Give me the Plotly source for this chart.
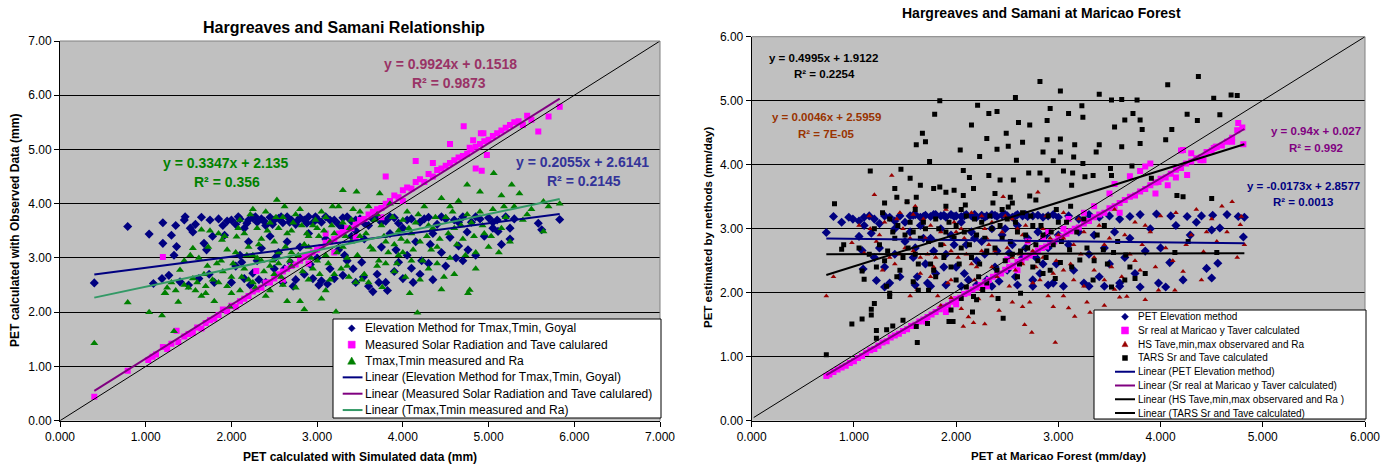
import plotly.graph_objects as go

W, H = 1390, 464
FONT = "Liberation Sans, Arial, sans-serif"

# ------------------------------------------------------------------
# LEFT CHART DATA  (x = PET simulated, y = PET observed)
# ------------------------------------------------------------------
elev_pts = [
    (0.40, 2.54), (0.79, 3.58), (1.04, 3.44), (1.20, 3.65), (1.30, 3.42), (1.20, 3.27), (1.36, 3.21), (1.46, 3.76),
    (1.52, 3.55), (1.65, 3.75), (1.71, 3.15), (1.09, 2.53), (1.19, 2.62), (1.40, 2.56), (1.27, 2.68), (1.33, 3.05),
    (1.55, 3.48), (1.58, 3.62), (1.62, 2.62), (1.50, 2.50), (1.75, 3.70), (1.78, 3.40), (1.68, 3.27), (1.74, 2.70),
    (1.80, 2.55), (1.45, 3.70), (1.35, 3.60), (1.85, 3.72), (1.90, 3.60), (1.92, 3.42),
    (2.00, 3.70), (2.05, 3.62), (2.10, 3.72), (2.15, 3.55), (2.20, 3.70), (2.25, 3.74), (2.30, 3.66), (2.35, 3.72),
    (2.40, 3.60), (2.45, 3.75), (2.50, 3.70), (2.55, 3.73), (2.60, 3.65), (2.65, 3.76), (2.70, 3.70), (2.75, 3.62),
    (2.80, 3.74), (2.85, 3.70), (2.90, 3.76), (2.95, 3.65), (3.00, 3.72), (3.10, 3.76), (3.20, 3.70), (3.30, 3.74),
    (3.40, 3.68), (2.00, 2.55), (2.05, 2.85), (2.10, 3.05), (2.15, 2.62), (2.20, 3.30), (2.25, 2.72), (2.30, 2.95),
    (2.35, 3.18), (2.40, 2.55), (2.45, 3.40), (2.50, 2.80), (2.55, 3.10), (2.60, 2.55), (2.65, 3.30), (2.70, 2.90),
    (2.75, 2.60), (2.80, 3.20), (2.85, 2.70), (2.90, 3.45), (2.95, 2.62), (3.00, 3.00), (3.05, 2.58), (3.10, 3.35),
    (3.15, 2.80), (3.20, 2.62), (3.25, 3.15), (3.30, 2.68), (3.35, 2.95), (3.40, 3.40), (3.45, 2.55),
    (3.54, 2.65), (3.60, 2.48), (3.70, 2.70), (3.80, 2.55), (3.90, 2.75), (4.00, 2.62), (4.10, 2.81), (4.20, 2.70),
    (4.30, 2.90), (3.65, 2.38), (3.95, 2.92), (4.05, 3.05),
    (3.50, 3.72), (3.60, 3.60), (3.70, 3.75), (3.80, 3.68), (3.90, 3.74), (4.00, 3.55), (4.10, 3.72), (4.20, 3.66),
    (4.30, 3.75), (4.40, 3.62), (4.50, 3.72), (4.60, 3.70), (4.70, 3.76), (4.80, 3.66), (4.90, 3.72), (5.00, 3.74),
    (5.10, 3.70), (5.20, 3.76), (5.30, 3.72), (3.55, 3.35), (3.75, 3.20), (3.85, 3.45), (4.15, 3.30), (4.35, 3.45),
    (4.45, 3.10), (4.55, 3.38), (4.65, 3.22), (4.75, 3.48), (4.85, 3.05), (4.95, 3.40), (5.05, 3.55), (5.15, 3.25),
    (5.25, 3.35), (5.58, 3.64), (5.83, 3.71), (5.62, 3.52), (4.35, 2.60), (4.50, 2.85), (4.70, 2.95), (3.30, 3.55),
    (3.45, 3.50), (4.76, 3.15), (5.11, 3.49), (5.25, 3.55),
    (1.95, 3.68), (2.08, 3.76), (2.18, 3.64), (2.28, 3.76), (2.38, 3.68), (2.48, 3.62), (2.58, 3.76), (2.68, 3.66),
    (2.78, 3.70), (2.88, 3.64), (2.98, 3.76), (3.05, 3.66), (3.15, 3.70), (3.25, 3.62), (3.35, 3.76), (3.45, 3.70),
    (3.55, 3.64), (3.65, 3.72), (3.75, 3.66), (3.85, 3.76), (3.95, 3.64), (4.05, 3.70), (4.25, 3.72), (4.45, 3.76),
    (4.65, 3.66), (4.85, 3.76), (5.05, 3.66), (2.12, 2.92), (2.32, 2.60), (2.52, 3.02), (2.72, 2.48), (2.92, 2.88),
    (3.12, 2.52), (3.32, 3.05), (3.52, 2.92), (3.72, 2.55), (3.92, 3.15), (4.12, 2.55), (4.32, 3.25), (2.22, 2.50),
    (2.62, 2.80), (3.02, 2.50), (3.42, 2.80), (3.82, 2.40), (4.22, 2.95), (4.62, 3.00),
]

meas_pts = [
    (0.40, 0.44), (0.79, 0.92), (1.03, 1.12), (1.08, 1.18), (1.12, 1.22), (1.20, 1.36), (1.25, 1.32), (1.30, 1.42),
    (1.36, 1.66), (1.38, 1.45), (1.45, 1.55), (1.50, 1.60), (1.55, 1.62), (1.60, 1.72), (1.65, 1.70), (1.70, 1.80),
    (1.75, 1.85), (1.80, 1.88), (1.85, 1.95), (1.90, 2.05), (1.95, 2.02), (2.00, 2.12), (2.05, 2.10), (2.10, 2.20),
    (2.15, 2.25), (2.20, 2.30), (2.25, 2.38), (2.29, 2.76), (2.30, 2.42), (2.35, 2.45), (2.40, 2.55), (2.45, 2.55),
    (2.50, 2.62), (2.55, 2.70), (2.60, 2.75), (2.65, 2.80), (2.70, 2.85), (2.75, 2.88), (2.80, 2.95), (2.85, 3.02),
    (2.90, 3.05), (2.95, 3.10), (3.00, 3.15), (3.05, 3.20), (3.10, 3.28), (3.15, 3.30), (3.20, 3.35), (3.25, 3.45),
    (3.30, 3.48), (3.35, 3.55), (3.40, 3.55), (3.45, 3.62), (3.50, 3.70), (3.55, 3.72), (3.60, 3.80), (3.65, 3.85),
    (3.70, 3.90), (3.75, 3.92), (3.80, 4.50), (3.80, 4.00), (3.85, 4.05), (3.90, 4.15), (3.95, 4.12), (4.00, 4.25),
    (4.05, 4.30), (4.10, 4.28), (4.15, 4.79), (4.15, 4.40), (4.20, 4.45), (4.25, 4.40), (4.30, 4.55), (4.35, 4.50),
    (4.40, 4.62), (4.45, 4.65), (4.50, 4.70), (4.55, 4.75), (4.60, 4.80), (4.65, 4.85), (4.71, 5.43), (4.70, 4.88),
    (4.75, 4.92), (4.80, 5.00), (4.85, 5.05), (4.90, 5.10), (4.92, 4.61), (4.95, 5.15), (5.00, 5.18), (5.05, 5.25),
    (5.10, 5.30), (5.15, 5.35), (5.20, 5.40), (5.25, 5.45), (5.30, 5.50), (5.35, 5.52), (5.40, 5.45), (5.58, 5.33),
    (5.70, 5.61), (5.83, 5.79), (1.20, 3.02), (3.20, 3.10), (3.45, 3.38), (2.60, 2.60), (3.75, 3.75), (4.35, 4.75),
    (4.55, 5.10), (4.00, 4.05), (3.10, 3.45), (2.90, 2.90), (4.85, 4.65), (4.91, 5.30), (4.98, 4.90), (4.78, 5.03),
    (4.82, 5.17), (4.94, 5.30), (5.45, 5.62), (5.50, 5.55),
]

tmax_pts = [
    (0.40, 1.43), (0.79, 2.18), (1.04, 2.00), (1.19, 1.94), (1.22, 2.35), (1.25, 2.45), (1.30, 2.55), (1.33, 1.65),
    (1.35, 2.40), (1.40, 2.78), (1.45, 2.50), (1.50, 2.45), (1.52, 3.05), (1.55, 2.62), (1.60, 2.55), (1.62, 3.00),
    (1.65, 2.30), (1.68, 2.70), (1.70, 2.48), (1.72, 2.85), (1.75, 3.50), (1.78, 2.60), (1.80, 2.20), (1.85, 2.55),
    (1.88, 2.95), (1.90, 2.75), (1.92, 3.40), (1.95, 2.48), (1.98, 2.10), (2.00, 2.65), (1.38, 2.19), (1.23, 2.35),
    (1.65, 3.52), (1.55, 3.18), (2.06, 3.39), (1.89, 3.33),
    (2.05, 3.10), (2.10, 2.40), (2.15, 2.80), (2.20, 3.20), (2.25, 2.55), (2.30, 3.55), (2.35, 2.95), (2.40, 2.30),
    (2.45, 3.65), (2.50, 2.70), (2.53, 4.07), (2.55, 3.10), (2.60, 2.50), (2.65, 3.45), (2.70, 2.85), (2.75, 3.80),
    (2.80, 2.20), (2.85, 3.25), (2.90, 2.60), (2.95, 3.60), (3.00, 2.95), (3.05, 3.85), (3.10, 2.40), (3.15, 3.30),
    (3.20, 2.70), (3.25, 3.95), (3.30, 4.25), (3.35, 3.00), (3.40, 3.70), (3.45, 2.55), (3.50, 3.40),
    (2.10, 3.70), (2.20, 2.60), (2.30, 3.00), (2.40, 3.85), (2.50, 3.30), (2.60, 3.75), (2.70, 3.50), (2.80, 3.90),
    (2.90, 3.20), (3.00, 3.55), (3.10, 3.75), (3.20, 3.45), (3.30, 3.65), (3.40, 3.30), (3.50, 3.85), (2.15, 3.45),
    (2.35, 3.35), (2.55, 2.90), (2.75, 2.45), (2.95, 2.80), (3.15, 2.60), (3.35, 2.85), (2.65, 2.20), (2.85, 2.05),
    (3.05, 2.25), (3.22, 2.01), (2.25, 3.90), (2.45, 2.40), (2.62, 3.95), (2.82, 3.60), (3.02, 3.40), (3.18, 3.95),
    (3.38, 3.55), (2.25, 3.05), (2.45, 2.85), (2.70, 3.10), (2.90, 3.40), (3.10, 3.05), (3.30, 3.20), (2.55, 3.55),
    (3.55, 2.70), (3.60, 3.95), (3.65, 3.15), (3.70, 2.85), (3.75, 3.60), (3.76, 2.46), (3.80, 3.30), (3.85, 4.00),
    (3.90, 2.75), (3.95, 3.50), (4.00, 3.10), (4.05, 3.85), (4.08, 2.35), (4.10, 2.95), (4.15, 3.65), (4.17, 1.99),
    (4.20, 3.30), (4.25, 3.95), (4.30, 2.80), (4.35, 3.55), (4.40, 3.20), (4.45, 2.42), (4.50, 3.75), (4.55, 3.00),
    (4.60, 3.55), (4.65, 4.05), (4.70, 3.35), (4.76, 2.35), (4.78, 2.41), (4.80, 3.65), (4.85, 3.10), (4.90, 3.85),
    (4.95, 3.45), (5.00, 3.20), (5.05, 3.90), (5.12, 3.10), (5.15, 3.55), (5.20, 3.75), (5.30, 3.95), (5.40, 3.70),
    (5.50, 3.90), (5.64, 3.49), (5.70, 3.95), (5.83, 4.00), (3.60, 2.55), (3.90, 3.25), (4.10, 3.45), (4.40, 2.90),
    (4.60, 2.70), (3.70, 3.80), (4.00, 3.70), (4.30, 3.60), (4.75, 3.80), (5.25, 3.30), (4.85, 2.80), (4.55, 3.95),
    (5.06, 4.56), (5.27, 4.35), (5.36, 4.19), (3.46, 4.22), (3.73, 4.19), (4.75, 4.35), (4.90, 4.22), (5.64, 4.04),
    (4.45, 4.10), (5.15, 4.15), (3.95, 3.05), (4.20, 2.60), (3.80, 2.90), (4.05, 3.30),
    (2.02, 2.90), (2.08, 3.55), (2.12, 2.65), (2.18, 3.05), (2.22, 3.80), (2.28, 2.45), (2.32, 3.25), (2.38, 2.75),
    (2.42, 3.50), (2.48, 2.95), (2.52, 3.75), (2.58, 2.65), (2.63, 3.20), (2.68, 2.95), (2.72, 3.65), (2.78, 3.05),
    (2.83, 2.75), (2.88, 3.45), (2.93, 3.00), (2.98, 3.70), (3.03, 2.70), (3.08, 3.50), (3.13, 2.90), (3.17, 3.60),
    (3.23, 3.10), (3.28, 2.80), (3.33, 3.40), (3.37, 2.65), (3.42, 3.90), (3.47, 3.05), (3.52, 2.60), (3.57, 3.45),
    (3.62, 3.20), (3.67, 3.70), (3.72, 2.95), (3.78, 3.40), (3.83, 3.10), (3.88, 3.75), (3.93, 2.90), (3.98, 3.35),
    (4.03, 2.65), (4.07, 3.55), (4.12, 3.15), (4.18, 3.80), (4.23, 2.95), (4.28, 3.40), (4.33, 3.15), (4.38, 3.75),
    (4.43, 3.35), (4.48, 2.65), (4.53, 3.45), (4.58, 3.85), (4.63, 3.25), (4.68, 3.60), (4.73, 3.05), (4.83, 3.40),
    (4.93, 3.60), (5.03, 3.40), (5.18, 3.95), (5.45, 3.80), (1.45, 2.95), (1.58, 2.40), (1.73, 3.20), (1.83, 2.90),
    (1.95, 3.15), (1.70, 2.35), (1.85, 3.45), (2.00, 2.35),
]

left_trend_names = ["Linear (Elevation Method for Tmax,Tmin, Goyal)",
                    "Linear (Measured Solar Radiation and Tave calulared)",
                    "Linear (Tmax,Tmin measured and Ra)"]
left_slopes = [0.2055, 0.9924, 0.3347]
left_inters = [2.6141, 0.1518, 2.135]
left_trend_x = [0.40, 5.83]
left_diag = [0.0, 7.0]

# ------------------------------------------------------------------
# RIGHT CHART DATA  (x = PET at Maricao Forest, y = PET by methods)
# ------------------------------------------------------------------
pet_elev_pts = [
    (0.73, 2.94), (0.80, 3.19), (0.88, 3.10), (0.99, 3.15), (1.05, 3.12), (1.10, 3.05), (1.15, 3.20), (1.20, 3.15),
    (1.25, 3.08), (1.30, 3.20), (1.35, 3.18), (1.40, 3.00), (1.45, 3.20), (1.05, 2.88), (1.08, 2.66), (1.20, 2.55),
    (1.25, 2.70), (1.09, 2.37), (1.17, 2.93), (1.22, 2.19), (1.30, 2.09), (1.30, 2.40), (1.35, 2.15), (1.40, 2.60),
    (1.45, 2.25), (1.50, 2.80),
    (1.55, 3.20), (1.60, 3.22), (1.65, 3.18), (1.70, 3.21), (1.75, 3.19), (1.80, 3.22), (1.85, 3.20), (1.90, 3.18),
    (1.95, 3.22), (2.00, 3.20), (2.05, 3.19), (2.10, 3.22), (2.15, 3.20), (2.20, 3.18), (2.25, 3.21), (2.30, 3.20),
    (2.35, 3.22), (2.40, 3.19), (2.45, 3.21), (2.50, 3.20), (2.55, 3.18), (2.60, 3.22), (2.65, 3.20), (2.70, 3.19),
    (2.80, 3.21), (2.90, 3.20), (3.00, 3.18),
    (1.55, 2.95), (1.60, 2.70), (1.65, 3.05), (1.70, 2.45), (1.75, 2.85), (1.80, 2.30), (1.85, 3.00), (1.90, 2.60),
    (1.95, 2.90), (2.00, 2.40), (2.05, 3.10), (2.10, 2.75), (2.15, 2.95), (2.20, 2.50), (2.25, 2.80), (2.30, 2.20),
    (2.35, 3.00), (2.40, 2.65), (2.45, 2.90), (2.50, 2.35), (2.55, 2.75), (2.60, 3.05), (2.65, 2.55), (2.70, 2.85),
    (2.75, 2.20), (2.80, 2.95), (2.85, 2.45), (2.90, 2.70), (2.95, 2.15), (3.00, 2.90),
    (1.60, 2.12), (1.75, 2.10), (1.90, 2.12), (2.05, 2.10), (2.20, 2.12), (2.35, 2.10), (2.60, 2.12), (2.75, 2.10),
    (2.90, 2.12), (3.05, 2.10),
    (3.10, 3.20), (3.20, 3.15), (3.30, 3.22), (3.40, 3.18), (3.50, 3.20), (3.60, 3.15), (3.70, 3.19), (3.80, 3.22),
    (3.96, 3.23), (4.10, 3.20), (4.26, 3.19), (4.40, 3.20), (4.51, 3.21), (4.65, 3.22), (4.76, 3.19), (4.81, 2.87),
    (4.58, 3.01), (4.29, 2.90), (4.09, 2.47), (4.45, 2.38), (4.56, 2.46), (4.50, 2.23), (4.22, 2.20), (3.98, 2.15),
    (4.05, 2.09), (3.80, 2.09), (3.10, 2.75), (3.15, 2.35), (3.20, 2.95), (3.25, 2.15), (3.30, 2.60), (3.35, 2.90),
    (3.40, 2.25), (3.45, 2.70), (3.50, 2.45), (3.55, 2.95), (3.60, 2.15), (3.65, 2.55), (3.70, 2.85), (3.75, 2.30),
    (3.85, 2.65), (3.90, 3.00), (4.00, 2.70), (4.15, 3.05), (4.35, 3.10), (4.50, 2.98), (4.82, 3.18), (3.45, 2.10),
    (3.60, 2.10), (3.30, 2.10),
    (1.58, 3.21), (1.68, 3.19), (1.78, 3.22), (1.88, 3.21), (1.98, 3.19), (2.08, 3.20), (2.18, 3.22), (2.28, 3.18),
    (2.38, 3.21), (2.48, 3.22), (2.58, 3.20), (2.68, 3.22), (2.75, 3.20), (2.85, 3.18), (2.95, 3.22), (1.58, 2.55),
    (1.68, 2.85), (1.78, 2.65), (1.88, 2.40), (1.98, 2.75), (2.08, 2.30), (2.18, 2.85), (2.28, 2.60), (2.38, 2.40),
    (2.48, 3.00), (2.58, 2.25), (2.68, 2.70), (2.78, 2.55), (2.88, 2.90), (2.98, 2.45), (1.50, 3.10), (1.62, 2.25),
    (1.72, 2.15), (2.12, 2.20), (2.42, 2.18), (2.52, 2.62), (2.82, 2.30), (1.40, 3.12), (1.10, 3.18), (0.95, 3.18),
]

sr_pts = [
    (0.73, 0.70), (0.76, 0.72), (0.80, 0.76), (0.84, 0.80), (0.88, 0.83), (0.92, 0.86), (0.96, 0.90), (1.00, 0.93),
    (1.04, 0.98), (1.08, 1.01), (1.12, 1.06), (1.16, 1.10), (1.20, 1.12), (1.24, 1.17), (1.28, 1.22), (1.32, 1.24),
    (1.36, 1.30), (1.40, 1.33), (1.44, 1.36), (1.48, 1.40), (1.52, 1.43), (1.56, 1.48), (1.60, 1.50), (1.64, 1.55),
    (1.68, 1.58), (1.72, 1.62), (1.76, 1.66), (1.80, 1.70), (1.84, 1.74), (1.88, 1.78), (1.92, 1.80), (1.96, 1.86),
    (2.00, 1.90), (2.04, 1.92), (2.08, 1.98), (2.12, 2.00), (2.16, 2.05), (2.20, 2.08), (2.24, 2.12), (2.28, 2.16),
    (2.32, 2.20), (2.36, 2.25), (2.40, 2.28), (2.44, 2.30), (2.48, 2.36), (2.52, 2.40), (2.56, 2.42), (2.60, 2.48),
    (2.64, 2.50), (2.68, 2.55), (2.72, 2.58), (2.76, 2.62), (2.80, 2.66), (2.84, 2.70), (2.88, 2.72), (2.92, 2.78),
    (2.96, 2.80), (3.00, 2.85), (3.04, 2.88), (3.08, 2.92), (3.12, 2.96), (3.16, 3.00), (3.20, 3.02), (3.25, 3.08),
    (3.30, 3.12), (3.35, 3.18), (3.40, 3.22), (3.45, 3.25), (3.50, 3.32), (3.55, 3.35), (3.60, 3.40), (3.65, 3.45),
    (3.70, 3.50), (3.75, 3.52), (3.80, 3.58), (3.85, 3.62), (3.90, 3.68), (3.95, 3.72), (4.00, 3.78), (4.05, 3.80),
    (4.10, 3.86), (4.15, 3.92), (4.20, 3.95), (4.25, 4.02), (4.30, 4.05), (4.35, 4.10), (4.40, 4.12), (4.45, 4.20),
    (4.50, 4.22), (4.55, 4.28), (4.60, 4.30), (4.65, 4.36), (4.70, 4.42), (4.75, 4.54), (4.76, 4.65), (4.81, 4.32),
    (4.80, 4.58), (3.90, 4.02), (4.07, 3.68), (4.42, 4.07), (4.54, 4.28), (3.35, 3.35), (3.50, 3.55), (3.70, 3.82),
    (2.90, 2.95), (3.10, 3.15), (2.50, 2.52), (2.70, 2.80), (3.55, 3.70), (3.80, 3.90), (4.20, 4.22), (4.30, 4.18),
    (3.60, 3.25), (2.30, 2.10), (2.60, 2.35), (1.90, 1.70), (2.00, 1.82), (1.70, 1.55), (3.95, 3.55), (4.15, 3.80),
    (3.25, 3.25), (3.05, 3.00), (2.85, 2.85), (3.85, 3.97), (4.22, 4.23), (4.39, 4.07), (4.52, 4.26), (4.26, 3.84),
    (3.98, 3.73), (4.70, 4.36),
]

hs_pts = [
    (0.73, 1.95), (0.80, 2.25), (0.98, 2.78), (1.05, 3.05), (1.10, 2.62), (1.15, 3.20), (1.20, 3.53), (1.25, 2.90),
    (1.30, 3.10), (1.37, 3.83), (1.40, 2.45), (1.45, 3.25), (1.50, 2.70), (1.55, 1.95), (1.60, 3.35), (1.65, 2.30),
    (1.70, 2.85), (1.75, 3.05), (1.80, 2.55), (1.85, 1.80), (1.90, 3.30), (1.95, 2.20), (2.00, 2.95), (2.05, 1.75),
    (2.07, 1.47), (2.10, 2.60), (2.15, 3.25), (2.17, 1.53), (2.20, 2.40), (2.25, 2.05), (2.28, 1.51), (2.30, 2.85),
    (2.35, 3.10), (2.40, 2.25), (2.46, 3.50), (2.50, 2.70), (2.55, 1.85), (2.60, 3.00), (2.65, 2.45), (2.67, 1.50),
    (2.70, 2.80), (2.74, 1.38), (2.75, 2.15), (2.80, 3.57), (2.85, 2.55), (2.90, 1.95), (2.95, 1.78), (2.97, 1.22),
    (3.00, 2.90), (3.05, 2.35), (3.10, 1.76), (3.15, 2.75), (3.16, 1.63), (3.20, 3.15), (3.25, 2.10), (3.31, 1.69),
    (3.35, 2.55), (3.40, 3.05), (3.45, 2.20), (3.50, 2.85), (3.55, 3.30), (3.60, 1.93), (3.67, 1.94), (3.70, 2.60),
    (3.75, 3.10), (3.80, 2.35), (3.85, 1.89), (3.90, 2.95), (3.98, 2.04), (4.00, 3.20), (4.05, 2.70), (4.14, 2.04),
    (4.15, 3.25), (4.22, 2.33), (4.30, 2.90), (4.35, 3.30), (4.42, 2.64), (4.50, 3.15), (4.55, 2.80), (4.60, 3.35),
    (4.70, 3.42), (4.75, 2.55), (4.78, 3.06), (4.79, 3.19), (4.82, 2.75),
    (1.22, 2.80), (1.35, 2.55), (1.48, 3.00), (1.58, 2.65), (1.68, 3.15), (1.78, 2.40), (1.88, 2.75), (1.98, 3.10),
    (2.08, 2.85), (2.18, 2.20), (2.28, 3.00), (2.38, 2.65), (2.48, 3.20), (2.58, 2.35), (2.68, 3.05), (2.78, 2.40),
    (2.88, 3.20), (2.98, 2.50), (1.62, 2.05), (1.92, 2.15), (2.22, 1.90), (2.52, 2.10), (2.82, 2.20), (3.12, 2.45),
    (1.42, 3.15), (1.72, 2.60), (2.02, 2.55), (2.32, 2.75), (2.62, 2.60), (2.92, 2.85), (3.22, 2.60), (3.52, 2.40),
    (3.82, 2.75), (4.12, 2.50), (4.45, 2.95), (3.62, 2.25), (2.12, 1.62), (2.42, 1.72), (1.82, 1.95), (2.72, 1.85),
    (3.28, 1.85), (1.52, 3.42), (1.16, 3.00), (1.58, 3.22), (2.25, 3.20), (2.55, 3.15), (3.05, 3.25),
    (1.28, 2.35), (1.45, 2.60), (1.55, 2.85), (1.65, 2.55), (1.75, 2.25), (1.85, 2.95), (1.95, 2.65), (2.05, 3.00),
    (2.15, 2.45), (2.25, 2.65), (2.35, 2.40), (2.45, 2.95), (2.55, 2.55), (2.65, 2.90), (2.75, 2.65), (2.85, 3.00),
    (2.95, 2.30), (3.05, 2.85), (3.15, 2.20), (3.25, 2.95), (3.35, 2.35), (3.45, 2.75), (3.55, 2.05), (3.65, 2.90),
    (3.75, 2.50), (3.85, 3.05), (3.95, 2.40), (4.25, 2.75), (4.40, 2.20), (4.65, 2.95), (1.95, 1.92), (2.35, 1.95),
    (2.65, 1.78), (3.05, 1.95), (3.45, 1.80),
]

tars_pts = [
    (0.73, 1.03), (1.62, 1.22), (1.16, 3.90), (0.81, 3.39), (0.88, 2.68), (0.98, 1.51), (1.08, 1.59), (1.17, 1.65),
    (1.22, 1.41), (1.22, 1.29), (1.32, 1.42), (1.38, 1.48), (1.48, 1.57), (1.61, 1.47), (1.72, 1.52), (1.93, 1.55),
    (1.97, 1.55), (2.16, 1.70), (2.20, 1.89), (2.26, 2.05), (2.46, 1.60), (2.41, 1.91), (2.63, 1.99),
    (1.84, 5.00), (1.79, 4.79), (1.67, 4.49), (1.61, 4.31), (1.70, 4.36), (1.74, 4.05), (2.21, 4.93), (2.15, 4.62),
    (2.32, 4.80), (2.40, 4.83), (2.58, 5.05), (2.82, 5.30), (2.61, 4.66), (2.49, 4.49), (2.30, 4.41), (2.04, 4.23),
    (2.40, 4.24), (2.51, 4.29), (2.65, 4.35), (2.72, 4.62), (2.89, 4.39), (2.85, 4.20), (2.23, 4.13), (2.59, 4.07),
    (1.46, 3.93), (1.55, 3.79), (1.65, 3.68), (2.07, 3.91), (2.13, 3.80), (2.32, 3.83), (2.43, 3.76), (2.56, 3.76),
    (2.71, 3.87), (2.82, 3.87), (1.30, 3.40), (1.40, 3.63), (1.42, 3.49), (1.52, 3.42), (1.61, 3.49), (1.78, 3.63),
    (1.84, 3.65), (1.90, 3.57), (2.07, 3.52), (2.09, 3.37), (2.17, 3.63), (2.36, 3.40), (2.53, 3.49), (2.51, 3.34),
    (2.72, 3.51),
    (1.10, 2.21), (1.08, 2.34), (1.20, 1.83), (1.17, 1.74), (1.35, 1.99), (1.35, 1.94), (1.32, 2.10), (1.42, 2.25),
    (1.58, 2.17), (1.63, 2.04), (1.73, 2.04), (1.95, 1.73), (2.10, 2.09), (2.05, 1.91), (2.17, 1.94),
    (3.02, 5.15), (3.40, 5.10), (3.52, 5.01), (3.62, 5.02), (3.77, 5.01), (4.07, 5.25), (4.37, 5.38), (4.52, 5.04),
    (4.69, 5.09), (4.75, 5.08), (3.23, 4.92), (2.92, 4.88), (2.89, 4.69), (3.10, 4.80), (3.24, 4.74), (3.73, 4.80),
    (3.80, 4.70), (3.55, 4.59), (3.65, 4.70), (3.82, 4.55), (4.05, 4.39), (4.11, 4.55), (4.26, 4.79), (4.36, 4.69),
    (4.58, 4.78), (3.02, 4.40), (3.16, 4.31), (3.37, 4.20), (3.40, 4.31), (3.62, 4.28), (3.80, 4.33), (3.24, 4.02),
    (3.51, 3.94), (3.72, 3.98), (3.91, 3.79), (4.22, 3.50), (4.16, 3.52), (4.50, 3.47), (3.02, 4.20), (2.89, 3.76),
    (2.95, 4.06), (3.05, 3.90), (3.14, 3.87), (3.13, 3.68), (3.26, 3.81), (3.34, 3.83), (3.52, 3.83), (3.15, 4.12),
    (3.11, 2.67), (3.21, 2.51), (3.35, 2.50), (3.44, 2.67), (3.54, 2.63), (3.66, 2.59), (3.52, 2.09), (3.34, 2.20),
    (3.02, 2.47), (2.97, 2.22), (3.65, 2.20), (3.75, 2.22), (4.14, 2.63), (4.55, 2.63), (4.27, 2.80), (3.42, 1.31),
    (1.50, 2.90), (1.55, 3.10), (1.60, 2.60), (1.65, 2.85), (1.70, 3.00), (1.75, 2.45), (1.80, 3.15), (1.85, 2.75),
    (1.90, 2.95), (1.95, 2.40), (2.00, 3.05), (2.05, 2.70), (2.10, 3.20), (2.15, 2.55), (2.20, 2.90), (2.25, 3.10),
    (2.30, 2.65), (2.35, 3.00), (2.40, 2.35), (2.45, 2.85), (2.50, 3.15), (2.55, 2.60), (2.60, 2.95), (2.65, 3.25),
    (2.70, 2.70), (2.75, 3.05), (2.80, 2.50), (2.85, 2.90), (2.90, 3.20), (2.95, 2.75), (3.00, 3.10), (1.25, 2.75),
    (1.30, 2.50), (1.35, 3.15), (1.40, 2.85), (1.45, 2.35), (1.20, 3.00), (1.15, 2.60), (1.05, 2.70), (0.90, 2.75),
    (1.60, 3.30), (2.00, 2.20), (2.30, 2.15), (2.60, 2.25), (2.85, 2.30), (1.80, 2.25), (2.75, 2.40), (2.05, 3.30),
    (2.45, 3.30), (2.55, 3.40), (1.90, 3.35),
    (1.22, 2.40), (1.28, 3.25), (1.33, 2.65), (1.38, 2.95), (1.43, 3.05), (1.48, 2.55), (1.53, 2.70), (1.58, 2.95),
    (1.63, 2.45), (1.68, 3.10), (1.73, 2.80), (1.78, 2.35), (1.83, 3.00), (1.88, 2.55), (1.93, 3.10), (1.98, 2.85),
    (2.03, 2.45), (2.08, 2.95), (2.13, 2.75), (2.18, 3.15), (2.23, 2.45), (2.28, 2.85), (2.33, 3.20), (2.38, 2.70),
    (2.43, 3.05), (2.48, 2.50), (2.53, 2.80), (2.58, 3.10), (2.63, 2.65), (2.68, 2.90), (2.73, 3.20), (2.78, 2.75),
    (2.83, 3.05), (2.88, 2.55), (2.93, 2.95), (2.98, 3.30), (3.03, 2.80), (3.08, 3.10), (3.13, 2.40), (3.18, 2.95),
    (3.28, 2.70), (3.38, 2.90), (3.48, 2.45), (3.58, 2.80), (3.70, 2.40), (3.85, 2.30), (2.62, 2.45), (2.92, 2.35),
    (2.22, 2.25), (3.25, 3.15), (3.45, 3.05), (3.12, 3.35), (2.78, 3.45), (2.38, 3.55), (1.98, 3.60),
]

right_trend_names = ["Linear (PET Elevation method)",
                     "Linear (Sr real at Maricao y Taver calculated)",
                     "Linear (HS Tave,min,max observared and Ra )",
                     "Linear (TARS Sr and Tave calculated)"]
right_slopes = [-0.0173, 0.94, 0.0046, 0.4995]
right_inters = [2.8577, 0.027, 2.5959, 1.9122]
right_trend_x = [0.73, 4.82]
right_diag_x = [0.02, 6.0]
right_diag_y = [0.05, 6.0]

# ------------------------------------------------------------------
fig = go.Figure()


def xs(pts):
    return [p[0] for p in pts]


def ys(pts):
    return [p[1] for p in pts]


# left markers
fig.add_trace(go.Scatter(x=xs(elev_pts), y=ys(elev_pts), mode="markers", xaxis="x", yaxis="y",
                         marker=dict(symbol="diamond", size=7, color="#000080"), showlegend=False,
                         name="Elevation Method for Tmax,Tmin, Goyal"))
fig.add_trace(go.Scatter(x=xs(meas_pts), y=ys(meas_pts), mode="markers", xaxis="x", yaxis="y",
                         marker=dict(symbol="square", size=6, color="#FF00FF"), showlegend=False,
                         name="Measured Solar Radiation and Tave calulared"))
fig.add_trace(go.Scatter(x=xs(tmax_pts), y=ys(tmax_pts), mode="markers", xaxis="x", yaxis="y",
                         marker=dict(symbol="triangle-up", size=7, color="#008000"), showlegend=False,
                         name="Tmax,Tmin measured and Ra"))
fig.add_trace(go.Scatter(x=left_diag, y=left_diag, mode="lines", xaxis="x", yaxis="y",
                         line=dict(color="black", width=1), showlegend=False, hoverinfo="skip"))
left_trend_colors = ["#000080", "#800080", "#339966"]
for n, m, b, c in zip(left_trend_names, left_slopes, left_inters, left_trend_colors):
    fig.add_trace(go.Scatter(x=left_trend_x, y=[m * v + b for v in left_trend_x], mode="lines",
                             xaxis="x", yaxis="y", line=dict(color=c, width=2), name=n, showlegend=False))

# right markers
fig.add_trace(go.Scatter(x=xs(pet_elev_pts), y=ys(pet_elev_pts), mode="markers", xaxis="x2", yaxis="y2",
                         marker=dict(symbol="diamond", size=7, color="#000080"), showlegend=False,
                         name="PET Elevation method"))
fig.add_trace(go.Scatter(x=xs(sr_pts), y=ys(sr_pts), mode="markers", xaxis="x2", yaxis="y2",
                         marker=dict(symbol="square", size=6, color="#FF00FF"), showlegend=False,
                         name="Sr real at Maricao y Taver calculated"))
fig.add_trace(go.Scatter(x=xs(hs_pts), y=ys(hs_pts), mode="markers", xaxis="x2", yaxis="y2",
                         marker=dict(symbol="triangle-up", size=5, color="#990000"), showlegend=False,
                         name="HS Tave,min,max observared and Ra"))
fig.add_trace(go.Scatter(x=xs(tars_pts), y=ys(tars_pts), mode="markers", xaxis="x2", yaxis="y2",
                         marker=dict(symbol="square", size=5, color="#000000"), showlegend=False,
                         name="TARS Sr and Tave calculated"))
fig.add_trace(go.Scatter(x=right_diag_x, y=right_diag_y, mode="lines", xaxis="x2", yaxis="y2",
                         line=dict(color="black", width=1), showlegend=False, hoverinfo="skip"))
right_trend_colors = ["#000080", "#800080", "#000000", "#000000"]
for n, m, b, c in zip(right_trend_names, right_slopes, right_inters, right_trend_colors):
    fig.add_trace(go.Scatter(x=right_trend_x, y=[m * v + b for v in right_trend_x], mode="lines",
                             xaxis="x2", yaxis="y2", line=dict(color=c, width=2), name=n, showlegend=False))


def PX(x):
    return x / W


def PY(y):
    return 1 - y / H


axis_common = dict(showgrid=False, zeroline=False, showline=True, linecolor="black", linewidth=1,
                   ticks="outside", ticklen=5, tickcolor="black", tickwidth=1, automargin=False,
                   tickfont=dict(family=FONT, size=12, color="black"), fixedrange=True)
yaxis_common = dict(axis_common, showgrid=True, gridcolor="black", gridwidth=1)

L_X0, L_X1, L_Y0, L_Y1 = 60, 660, 420.7, 41
R_X0, R_X1, R_Y0, R_Y1 = 751.7, 1365, 420.7, 36.7

fig.update_layout(
    width=W, height=H, margin=dict(l=0, r=0, t=0, b=0, pad=0, autoexpand=False),
    paper_bgcolor="white", plot_bgcolor="#C0C0C0", showlegend=False,
    font=dict(family=FONT, color="black"),
    xaxis=dict(axis_common, domain=[PX(L_X0), PX(L_X1)], anchor="y", range=[0, 7], tick0=0, dtick=1,
               tickformat=".3f"),
    yaxis=dict(yaxis_common, domain=[PY(L_Y0), PY(L_Y1)], anchor="x", range=[0, 7], tick0=0, dtick=1,
               tickformat=".2f"),
    xaxis2=dict(axis_common, domain=[PX(R_X0), PX(R_X1)], anchor="y2", range=[0, 6], tick0=0, dtick=1,
                tickformat=".3f"),
    yaxis2=dict(yaxis_common, domain=[PY(R_Y0), PY(R_Y1)], anchor="x2", range=[0, 6], tick0=0, dtick=1,
                tickformat=".2f"),
)

shapes = []
# grey top/right frame
for (x0, x1, y0, y1) in [(L_X0, L_X1, L_Y1, L_Y1), (L_X1, L_X1, L_Y1, L_Y0),
                         (R_X0, R_X1, R_Y1, R_Y1), (R_X1, R_X1, R_Y1, R_Y0)]:
    shapes.append(dict(type="line", xref="paper", yref="paper", x0=PX(x0), x1=PX(x1), y0=PY(y0), y1=PY(y1),
                       line=dict(color="#808080", width=1), layer="above"))

annotations = []


def text(x, y, s, size, bold=False, color="black", xanchor="center", angle=0):
    annotations.append(dict(xref="paper", yref="paper", x=PX(x), y=PY(y), text=(f"<b>{s}</b>" if bold else s),
                            showarrow=False, xanchor=xanchor, yanchor="middle", textangle=angle,
                            font=dict(family=FONT, size=size, color=color)))


# titles & axis titles
text(343.5, 28, "Hargreaves and Samani Relationship", 16, True)
text(360, 457, "PET calculated with Simulated data (mm)", 12, True)
text(15, 231, "PET calculated with Observed Data (mm)", 12, True, angle=-90)
text(1041.5, 13.5, "Hargreaves and Samani at Maricao Forest", 14, True)
text(1058, 456, "PET at Maricao Forest (mm/day)", 11.5, True)
text(708, 228, "PET estimated by methods (mm/day)", 11.5, True, angle=-90)

# trendline equations
text(450, 64, "y = 0.9924x + 0.1518", 14, True, "#993366")
text(449, 83, "R² = 0.9873", 14, True, "#993366")
text(226, 163, "y = 0.3347x + 2.135", 14, True, "#008000")
text(227, 182, "R² = 0.356", 14, True, "#008000")
text(582, 162, "y = 0.2055x + 2.6141", 14, True, "#333399")
text(584, 181, "R² = 0.2145", 14, True, "#333399")

text(823, 58, "y = 0.4995x + 1.9122", 11.5, True, "black")
text(824, 74, "R² = 0.2254", 11.5, True, "black")
text(826, 117, "y = 0.0046x + 2.5959", 11.5, True, "#993300")
text(826, 134, "R² = 7E-05", 11.5, True, "#993300")
text(1316, 131, "y = 0.94x + 0.027", 11.5, True, "#800080")
text(1316, 148, "R² = 0.992", 11.5, True, "#800080")
text(1303, 186, "y = -0.0173x + 2.8577", 11.5, True, "#000080")
text(1303, 202, "R² = 0.0013", 11.5, True, "#000080")


# ---------------- legends (drawn as shapes + text) ----------------
def legend_box(x0, y0, x1, y1):
    shapes.append(dict(type="rect", xref="paper", yref="paper", x0=PX(x0), x1=PX(x1), y0=PY(y1), y1=PY(y0),
                       fillcolor="white", line=dict(color="black", width=1), layer="above"))


def poly(points, color):
    path = "M " + " L ".join(f"{PX(a):.6f},{PY(b):.6f}" for a, b in points) + " Z"
    shapes.append(dict(type="path", xref="paper", yref="paper", path=path, fillcolor=color,
                       line=dict(color=color, width=0.5), layer="above"))


def sym(kind, cx, cy, r, color):
    if kind == "diamond":
        poly([(cx, cy - r), (cx + r, cy), (cx, cy + r), (cx - r, cy)], color)
    elif kind == "square":
        poly([(cx - r, cy - r), (cx + r, cy - r), (cx + r, cy + r), (cx - r, cy + r)], color)
    elif kind == "triangle":
        poly([(cx, cy - r), (cx + r, cy + r * 0.8), (cx - r, cy + r * 0.8)], color)


def hline(x0, x1, y, color):
    shapes.append(dict(type="line", xref="paper", yref="paper", x0=PX(x0), x1=PX(x1), y0=PY(y), y1=PY(y),
                       line=dict(color=color, width=2), layer="above"))


legend_left = [
    ("marker", "diamond", "#000080", "Elevation Method for Tmax,Tmin, Goyal"),
    ("marker", "square", "#FF00FF", "Measured Solar Radiation and Tave calulared"),
    ("marker", "triangle", "#008000", "Tmax,Tmin measured and Ra"),
    ("line", None, left_trend_colors[0], left_trend_names[0]),
    ("line", None, left_trend_colors[1], left_trend_names[1]),
    ("line", None, left_trend_colors[2], left_trend_names[2]),
]
legend_box(333, 319, 661, 418)
for i, (k, s, c, lab) in enumerate(legend_left):
    yc = 328.3 + i * 16.35
    if k == "marker":
        sym(s, 351.7, yc, 3.5 if s != "triangle" else 4, c)
    else:
        hline(342.7, 362.5, yc, c)
    text(363.3, yc, lab, 12, False, "black", xanchor="left")

legend_right = [
    ("marker", "diamond", "#000080", "PET Elevation method"),
    ("marker", "square", "#FF00FF", "Sr real at Maricao y Taver calculated"),
    ("marker", "triangle", "#990000", "HS Tave,min,max observared and Ra"),
    ("marker", "square", "#000000", "TARS Sr and Tave calculated"),
    ("line", None, right_trend_colors[0], right_trend_names[0]),
    ("line", None, right_trend_colors[1], right_trend_names[1]),
    ("line", None, right_trend_colors[2], right_trend_names[2]),
    ("line", None, right_trend_colors[3], right_trend_names[3]),
]
legend_box(1094, 310, 1366, 419)
rs = {"PET Elevation method": 3.5, "Sr real at Maricao y Taver calculated": 3.5,
      "HS Tave,min,max observared and Ra": 3.0, "TARS Sr and Tave calculated": 2.5}
for i, (k, s, c, lab) in enumerate(legend_right):
    yc = 316.7 + i * 13.76
    if k == "marker":
        sym(s, 1125, yc, rs[lab], c)
    else:
        hline(1115, 1135, yc, c)
    text(1136, yc, lab, 10, False, "black", xanchor="left")

fig.update_layout(shapes=shapes, annotations=annotations)
# the page body has a default 8px margin; remove it so the figure fills the window exactly
fig.write_html("out.html", config={"displayModeBar": False},
               post_script="document.body.style.margin='0';document.body.style.overflow='hidden';")
